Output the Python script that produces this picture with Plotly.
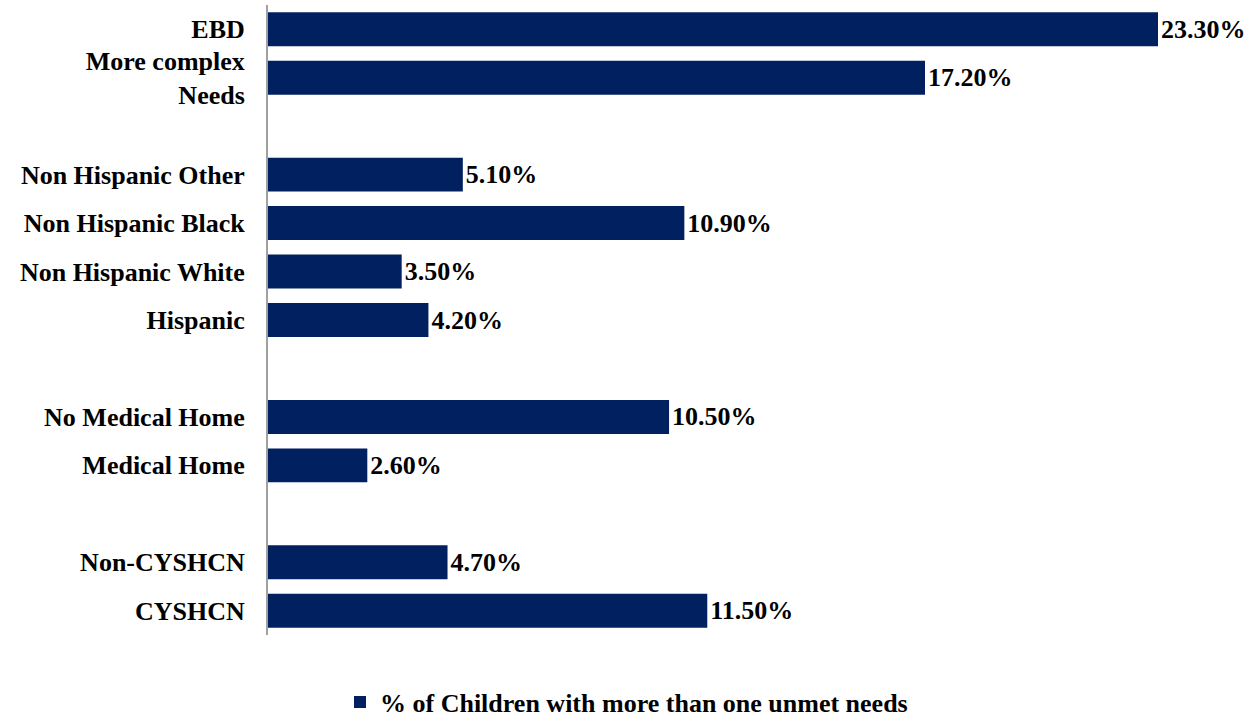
import plotly.graph_objects as go

categories = ["EBD", "More complex<br>Needs",
              "Non Hispanic Other", "Non Hispanic Black", "Non Hispanic White", "Hispanic",
              "No Medical Home", "Medical Home",
              "Non-CYSHCN", "CYSHCN"]
values = [23.3, 17.2, 5.1, 10.9, 3.5, 4.2, 10.5, 2.6, 4.7, 11.5]
series_name = "% of Children with more than one unmet needs"

# category order top -> bottom, with blank spacer rows between groups
order_top_down = ["EBD", "More complex<br>Needs", " ",
                  "Non Hispanic Other", "Non Hispanic Black", "Non Hispanic White", "Hispanic", "  ",
                  "No Medical Home", "Medical Home", "   ",
                  "Non-CYSHCN", "CYSHCN"]

FONT = "Liberation Serif, Times New Roman, serif"
NAVY = "#002060"
FS = 26

fig = go.Figure()
fig.add_trace(go.Bar(
    y=categories, x=values, orientation="h",
    name=f"<b>{series_name}</b>",
    marker=dict(color=NAVY, line=dict(width=0)),
    width=0.7,
    text=[f"<b>{v:.2f}%</b>" for v in values],
    textposition="outside",
    textfont=dict(family=FONT, size=FS, color="black"),
    cliponaxis=False,
    showlegend=True,
))

fig.update_layout(
    width=1253, height=717,
    paper_bgcolor="white", plot_bgcolor="white",
    margin=dict(l=268, r=95, t=5, b=82, autoexpand=False),
    font=dict(family=FONT, size=FS, color="black"),
    showlegend=True,
    legend=dict(
        orientation="h",
        xref="container", yref="container",
        x=0.5, xanchor="center", y=15 / 717, yanchor="middle",
        font=dict(family=FONT, size=FS, color="black"),
        itemwidth=30,
    ),
    xaxis=dict(range=[0, 23.3], showgrid=False, zeroline=False, automargin=False,
               showticklabels=False, showline=False, fixedrange=True),
    yaxis=dict(type="category",
               categoryorder="array",
               categoryarray=list(reversed(order_top_down)),
               range=[-0.5, len(order_top_down) - 0.5],
               automargin=False,
               showgrid=False, zeroline=False,
               showline=True, linecolor="#A0A0A0", linewidth=2,
               ticks="", ticklabelstandoff=16,
               tickvals=order_top_down,
               ticktext=[f"<b>{c}</b>" if c.strip() else "" for c in order_top_down],
               tickfont=dict(family=FONT, size=FS, color="black")),
)

fig.write_html("out.html",
               config={"displayModeBar": False},
               post_script="document.body.style.margin='0';document.body.style.overflow='hidden';")
